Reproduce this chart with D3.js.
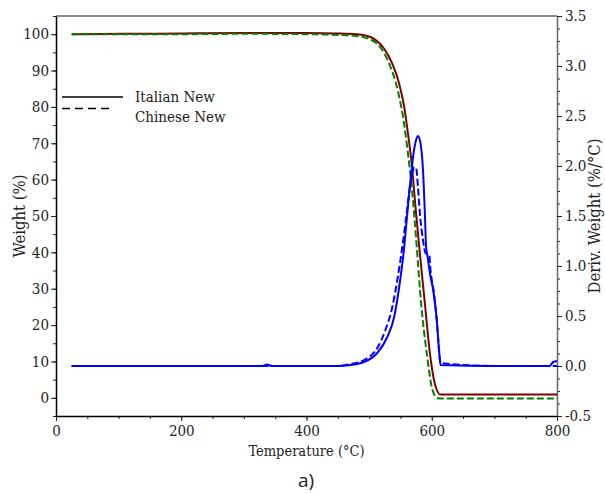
<!DOCTYPE html>
<html>
<head>
<meta charset="utf-8">
<script src="https://cdn.jsdelivr.net/npm/d3@7"></script>
<style>
  body { margin: 0; background: #fff; }
  text { font-family: "DejaVu Serif Condensed", "DejaVu Serif", serif; font-stretch: condensed; fill: #222; }
  .eje text { font-size: 15px; }
  .leyenda { font-size: 15px; }
  .titulo-x { font-size: 14.5px; }
  .titulo-y { font-size: 16.5px; }
  .letra { font-family: "Open Sans", "Liberation Sans", sans-serif; font-stretch: normal; font-size: 19px; }
</style>
</head>
<body>
<div id="graf"></div>
<script>
// I. Datos
// Italian New - peso (%)
italianoT = [25, 120, 200, 300, 400, 450, 480, 495, 508, 524, 537, 548, 556, 562, 568, 574, 581, 589, 597, 606, 614, 625, 700, 800]
italianoPeso = [100.0, 100.1, 100.2, 100.3, 100.3, 100.2, 100.0, 99.6, 98.7, 96.0, 91.9, 86.4, 80.0, 72.7, 64.4, 52.6, 39.8, 26.0, 12.3, 3.2, 0.9, 0.9, 0.9, 0.9]

// Chinese New - peso (%)
chinoT = [25, 200, 300, 400, 450, 480, 500, 518, 532, 547, 555, 562, 569, 576, 583, 592, 601, 609, 620, 700, 800]
chinoPeso = [100.0, 100.0, 100.1, 100.0, 99.8, 99.5, 98.7, 96.4, 91.9, 83.6, 76.3, 67.2, 56.2, 41.6, 26.0, 12.3, 2.3, -0.1, -0.2, -0.2, -0.2]

// Italian New - derivada (%/°C)
italianoDT = [25, 200, 330, 337, 345, 450, 470, 492, 513, 529, 540, 548, 555, 560, 565, 571, 575, 578, 582, 586, 589, 591, 593, 597, 603, 608, 612, 614, 700, 788, 794, 800]
italianoDeriv = [0, 0, 0, 0.015, 0, 0, 0.01, 0.04, 0.13, 0.29, 0.49, 0.79, 1.13, 1.46, 1.79, 2.13, 2.26, 2.30, 2.23, 1.96, 1.53, 1.19, 1.11, 0.93, 0.73, 0.46, 0.13, 0.01, 0, 0, 0.04, 0.05]

// Chinese New - derivada (%/°C)
chinoDT = [25, 200, 450, 470, 492, 513, 526, 537, 545, 553, 560, 565, 569, 572, 575, 578, 581, 586, 590, 596, 598, 603.5, 608, 612, 614, 700, 800]
chinoDeriv = [0, 0, 0, 0.02, 0.06, 0.18, 0.36, 0.59, 0.86, 1.19, 1.53, 1.79, 1.93, 1.99, 1.98, 1.79, 1.53, 1.26, 1.13, 1.11, 0.96, 0.73, 0.46, 0.13, 0.03, 0, 0]

xTicks = [0, 200, 400, 600, 800]
yTicks = [0, 10, 20, 30, 40, 50, 60, 70, 80, 90, 100]
y2Ticks = [-0.5, 0, 0.5, 1.0, 1.5, 2.0, 2.5, 3.0, 3.5]
leyenda = ['Italian New', 'Chinese New']

// II. Configuración
ancho_total = 605
alto_total = 494
margins = { top: 16, left: 56, right: 48, bottom: 78 }
ancho = ancho_total - margins.left - margins.right
alto = alto_total - margins.top - margins.bottom

svg = d3.select('#graf').append('svg')
        .attr('width', ancho_total)
        .attr('height', alto_total)

g = svg.append('g')
       .attr('transform', `translate(${ margins.left }, ${ margins.top })`)

x = d3.scaleLinear().domain([0, 800]).range([0, ancho])
y = d3.scaleLinear().domain([-5, 105]).range([alto, 0])
y2 = d3.scaleLinear().domain([-0.5, 3.5]).range([alto, 0])

// marco superior
g.append('line')
  .attr('x1', 0).attr('x2', ancho).attr('y1', 0).attr('y2', 0)
  .attr('stroke', '#666').attr('stroke-width', 1.5)

// ejes menores
minX = d3.range(0, 801, 50)
minY = d3.range(-5, 106, 5)
minY2 = d3.range(-0.5, 3.51, 0.125)

g.append('g').attr('class', 'menor')
  .attr('transform', `translate(0, ${ alto })`)
  .call(d3.axisBottom(x).tickValues(minX).tickSize(3).tickFormat(''))
g.append('g').attr('class', 'menor')
  .call(d3.axisLeft(y).tickValues(minY).tickSize(3).tickFormat(''))
g.append('g').attr('class', 'menor')
  .attr('transform', `translate(${ ancho }, 0)`)
  .call(d3.axisRight(y2).tickValues(minY2).tickSize(3).tickFormat(''))
g.selectAll('.menor .domain').remove()

// ejes principales
xAxisGroup = g.append('g').attr('class', 'eje')
  .attr('transform', `translate(0, ${ alto })`)
  .call(d3.axisBottom(x).tickValues(xTicks).tickSize(5).tickPadding(4).tickSizeOuter(0))
yAxisGroup = g.append('g').attr('class', 'eje')
  .call(d3.axisLeft(y).tickValues(yTicks).tickSize(5).tickPadding(2).tickSizeOuter(0))
y2AxisGroup = g.append('g').attr('class', 'eje')
  .attr('transform', `translate(${ ancho }, 0)`)
  .call(d3.axisRight(y2).tickValues(y2Ticks).tickSize(5).tickPadding(3).tickSizeOuter(0)
          .tickFormat(d => d.toFixed(1)))

g.selectAll('.domain').attr('stroke-width', 1.5)
g.selectAll('.tick line').attr('stroke', '#222')
y2AxisGroup.select('.domain').attr('stroke', '#666')
g.selectAll('.eje text').attr('fill', '#222')

// III. Curvas
linea = (xs, ys, esc) => d3.line()
  .x((d, i) => x(xs[i]))
  .y(d => esc(d))
  .curve(d3.curveMonotoneX)(ys)

g.append('path').attr('d', linea(italianoT, italianoPeso, y))
  .attr('fill', 'none').attr('stroke', '#800000').attr('stroke-width', 2)
g.append('path').attr('d', linea(chinoT, chinoPeso, y))
  .attr('fill', 'none').attr('stroke', '#008000').attr('stroke-width', 2)
  .attr('stroke-dasharray', '7,3')
g.append('path').attr('d', linea(italianoDT, italianoDeriv, y2))
  .attr('fill', 'none').attr('stroke', '#0000ff').attr('stroke-width', 2)
g.append('path').attr('d', linea(chinoDT, chinoDeriv, y2))
  .attr('fill', 'none').attr('stroke', '#0000ff').attr('stroke-width', 2)
  .attr('stroke-dasharray', '7,3')

// IV. Leyenda
leyenda.forEach((t, i) => {
  g.append('line')
    .attr('x1', 6).attr('x2', i === 1 ? 58 : 67)
    .attr('y1', 81 + i * 11.5).attr('y2', 81 + i * 11.5)
    .attr('stroke', '#000').attr('stroke-width', 1.5)
    .attr('stroke-dasharray', i === 1 ? '8,5' : null)
  g.append('text')
    .attr('class', 'leyenda')
    .attr('x', 79).attr('y', 86 + i * 20)
    .text(t)
})

// V. Títulos
g.append('text').attr('class', 'titulo-x')
  .attr('x', ancho / 2).attr('y', alto + 40)
  .attr('text-anchor', 'middle')
  .text('Temperature (°C)')

g.append('text').attr('class', 'titulo-y')
  .attr('transform', `translate(-31, ${ alto / 2 }) rotate(-90)`)
  .attr('text-anchor', 'middle')
  .text('Weight (%)')

g.append('text').attr('class', 'titulo-y')
  .attr('transform', `translate(${ ancho + 43 }, ${ alto / 2 }) rotate(-90)`)
  .attr('text-anchor', 'middle')
  .text('Deriv. Weight (%/°C)')

svg.append('text').attr('class', 'letra')
  .attr('x', 306).attr('y', 487)
  .attr('text-anchor', 'middle')
  .text('a)')
</script>
</body>
</html>
